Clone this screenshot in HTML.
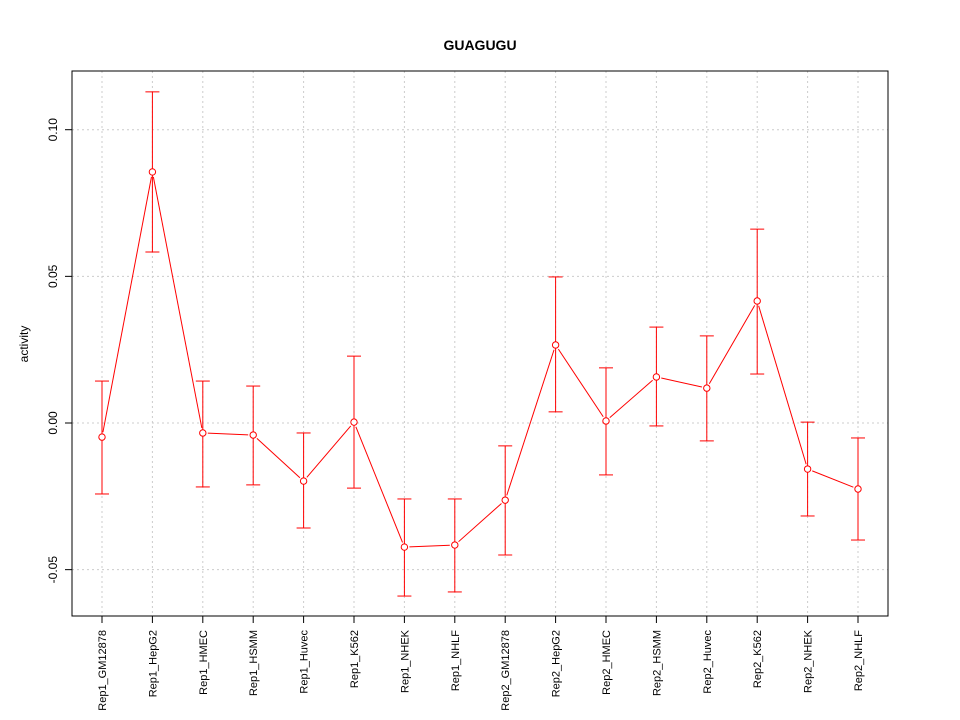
<!DOCTYPE html>
<html><head><meta charset="utf-8"><style>body{margin:0;background:#fff}svg{display:block}</style></head>
<body>
<svg id="chart" width="960" height="720" xmlns="http://www.w3.org/2000/svg" font-family="Liberation Sans, sans-serif">
<rect width="960" height="720" fill="#fff"/>
<text x="480" y="50" text-anchor="middle" font-size="14" font-weight="bold">GUAGUGU</text>
<text transform="translate(28,344) rotate(-90)" text-anchor="middle" font-size="12">activity</text>
<g id="grid"></g><g id="axes"></g><g id="marks"></g>
<rect x="72" y="71" width="816" height="545" fill="none" stroke="#000"/>
</svg>
<script>
const categories=["Rep1_GM12878","Rep1_HepG2","Rep1_HMEC","Rep1_HSMM","Rep1_Huvec","Rep1_K562","Rep1_NHEK","Rep1_NHLF","Rep2_GM12878","Rep2_HepG2","Rep2_HMEC","Rep2_HSMM","Rep2_Huvec","Rep2_K562","Rep2_NHEK","Rep2_NHLF"];
const values=[-0.0048,0.0856,-0.0034,-0.0041,-0.0198,0.0003,-0.0423,-0.0416,-0.0263,0.0266,0.0007,0.0157,0.0119,0.0416,-0.0157,-0.0225];
const upper=[0.0143,0.1129,0.0143,0.0126,-0.0034,0.0228,-0.0259,-0.0259,-0.0078,0.0498,0.0188,0.0327,0.0297,0.0661,0.0003,-0.0051];
const lower=[-0.0242,0.0583,-0.0218,-0.0211,-0.0358,-0.0222,-0.059,-0.0576,-0.045,0.0038,-0.0177,-0.001,-0.0061,0.0167,-0.0317,-0.0399];
const yTicks=[-0.05,0,0.05,0.1];
const yTickLabels=["-0.05","0.00","0.05","0.10"];
const NS="http://www.w3.org/2000/svg";
const xs=i=>102+i*(858-102)/(categories.length-1);
const ys=v=>423-v*2933;
function mk(parent,tag,attrs,text){const e=document.createElementNS(NS,tag);for(const k in attrs)e.setAttribute(k,attrs[k]);if(text!==undefined)e.textContent=text;document.getElementById(parent).appendChild(e);return e;}
yTicks.forEach((t,i)=>{
 const g=mk('grid','line',{x1:72,x2:888,y1:ys(t),y2:ys(t),stroke:'#ccc','stroke-dasharray':'2,3'});
 
 
 const tk=mk('axes','line',{x1:65,x2:72,y1:ys(t),y2:ys(t),stroke:'#000'});
 
 
 const lb=mk('axes','text',{transform:`translate(57,${ys(t)}) rotate(-90)`,'text-anchor':'middle','font-size':12},yTickLabels[i]);
 
 
});
categories.forEach((c,i)=>{
 const x=xs(i);
 const g=mk('grid','line',{x1:x,x2:x,y1:71,y2:616,stroke:'#ccc','stroke-dasharray':'2,3'});
 
 
 const tk=mk('axes','line',{x1:x,x2:x,y1:616,y2:623,stroke:'#000'});
 
 
 const lb=mk('axes','text',{transform:`translate(${x+4},630) rotate(-90)`,'text-anchor':'end','font-size':11},c);
 
 
});
for(let i=0;i<values.length-1;i++){
 const x1=xs(i),y1=ys(values[i]),x2=xs(i+1),y2=ys(values[i+1]);
 const d=Math.hypot(x2-x1,y2-y1),r=5/d;
 const l=mk('marks','line',{x1:x1+(x2-x1)*r,y1:y1+(y2-y1)*r,x2:x2-(x2-x1)*r,y2:y2-(y2-y1)*r,stroke:'#f00'});
 
 
}
values.forEach((v,i)=>{
 const x=xs(i);
 const b=mk('marks','line',{x1:x,x2:x,y1:ys(upper[i]),y2:ys(lower[i]),stroke:'#f00'});
 
 
 [upper[i],lower[i]].forEach(u=>{
  const c=mk('marks','line',{x1:x-7,x2:x+7,y1:ys(u),y2:ys(u),stroke:'#f00'});
  
  
 });
 const p=mk('marks','circle',{cx:x,cy:ys(v),r:3.2,fill:'#fff',stroke:'#f00'});
 
 
});
</script>
</body></html>
